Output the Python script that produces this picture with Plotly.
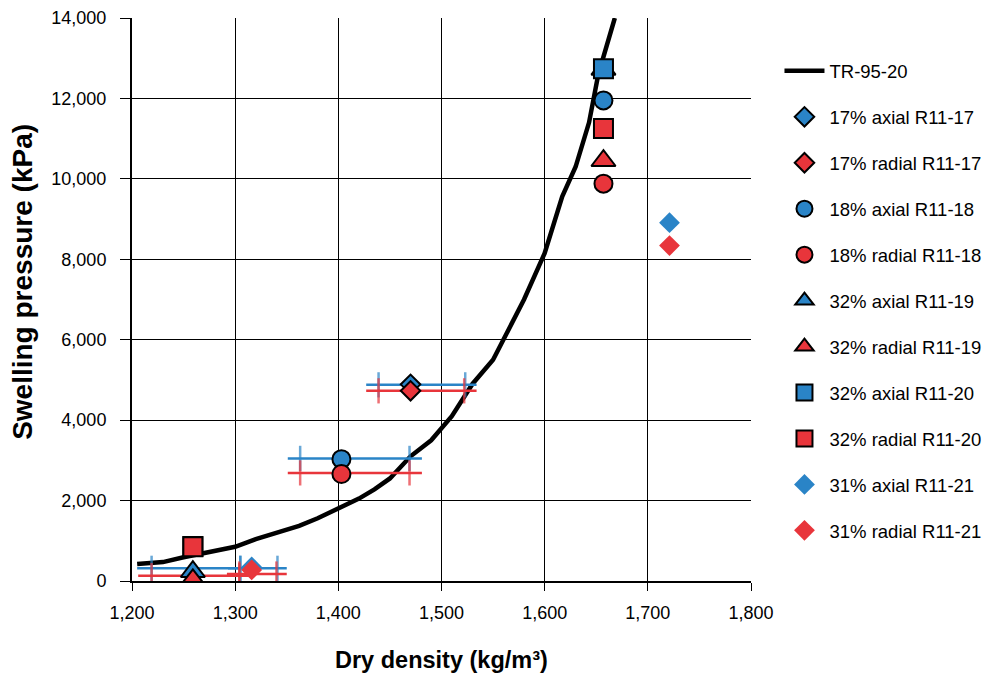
import plotly.graph_objects as go

BLUE = "#2A84C7"
RED = "#E8353B"

# Reference curve TR-95-20
curve_x = [1205, 1230, 1250, 1275, 1300, 1320, 1340, 1362, 1380, 1400, 1420, 1435, 1450,
           1470, 1490, 1510, 1530, 1550, 1580, 1600, 1617, 1630, 1643, 1652, 1662, 1668]
curve_y = [420, 470, 590, 720, 850, 1040, 1190, 1370, 1560, 1800, 2050, 2280, 2550,
           3100, 3500, 4100, 4900, 5500, 7000, 8150, 9560, 10300, 11400, 12600, 13450, 14000]

# Measurement series
s17_ax_x = [1470];        s17_ax_y = [4890]
s17_ra_x = [1470];        s17_ra_y = [4730]
s18_ax_x = [1403, 1657];  s18_ax_y = [3030, 11950]
s18_ra_x = [1403, 1657];  s18_ra_y = [2660, 9880]
s19_ax_x = [1259, 1657];  s19_ax_y = [230, 12720]
s19_ra_x = [1259, 1657];  s19_ra_y = [30, 10450]
s20_ax_x = [1259, 1657];  s20_ax_y = [860, 12740]
s20_ra_x = [1259, 1657];  s20_ra_y = [850, 11250]
s21_ax_x = [1316, 1721];  s21_ax_y = [350, 8910]
s21_ra_x = [1316, 1721];  s21_ra_y = [275, 8340]

# Density ranges (horizontal bars): y, line ends, cap positions
bar_y_blue = [4878, 3049, 316, 316]
bar_lo_blue = [1427, 1351, 1205, 1293]
bar_hi_blue = [1534, 1481, 1317, 1350]
cap_lo_blue = [1439, 1363, 1219, 1305]
cap_hi_blue = [1523, 1469, 1305, 1341]

bar_y_red = [4729, 2688, 132, 174]
bar_lo_red = [1427, 1351, 1206, 1292]
bar_hi_red = [1534, 1481, 1316, 1350]
cap_lo_red = [1439, 1363, 1219, 1304]
cap_hi_red = [1522, 1469, 1304, 1340]

x_ticks = [1200, 1300, 1400, 1500, 1600, 1700, 1800]
y_ticks = [0, 2000, 4000, 6000, 8000, 10000, 12000, 14000]

FONT = "Liberation Sans, Arial, sans-serif"

fig = go.Figure()

fig.add_trace(go.Scatter(x=curve_x, y=curve_y, mode="lines", name="TR-95-20",
                         line=dict(color="black", width=4.5), legendgroup="g0"))

def add_bars(ys, los, his, clo, chi, color):
    for y, lo, hi, a, b in zip(ys, los, his, clo, chi):
        fig.add_trace(go.Scatter(
            x=[lo, a, b, hi], y=[y, y, y, y], mode="lines+markers",
            line=dict(color=color, width=2.5),
            marker=dict(symbol="line-ns", size=[0, 18, 18, 0],
                        line=dict(color=color, width=2.5)),
            showlegend=False, hoverinfo="skip"))

add_bars(bar_y_blue, bar_lo_blue, bar_hi_blue, cap_lo_blue, cap_hi_blue, BLUE)
add_bars(bar_y_red, bar_lo_red, bar_hi_red, cap_lo_red, cap_hi_red, RED)

series = [
    ("17% axial R11-17", s17_ax_x, s17_ax_y, "diamond", 15, BLUE, 2),
    ("17% radial R11-17", s17_ra_x, s17_ra_y, "diamond", 15, RED, 2),
    ("18% axial R11-18", s18_ax_x, s18_ax_y, "circle", 18, BLUE, 2),
    ("18% radial R11-18", s18_ra_x, s18_ra_y, "circle", 18, RED, 2),
    ("32% axial R11-19", s19_ax_x, s19_ax_y, "triangle-up", 21, BLUE, 2),
    ("32% radial R11-19", s19_ra_x, s19_ra_y, "triangle-up", 21, RED, 2),
    ("32% axial R11-20", s20_ax_x, s20_ax_y, "square", 19, BLUE, 2),
    ("32% radial R11-20", s20_ra_x, s20_ra_y, "square", 19, RED, 2),
    ("31% axial R11-21", s21_ax_x, s21_ax_y, "diamond", 16, BLUE, 0),
    ("31% radial R11-21", s21_ra_x, s21_ra_y, "diamond", 16, RED, 0),
]
for i, (name, xs, ys, sym, size, color, lw) in enumerate(series):
    fig.add_trace(go.Scatter(
        x=xs, y=ys, mode="markers", name=name, legendgroup=f"g{i+1}",
        marker=dict(symbol=sym, size=size, color=color,
                    line=dict(color="black", width=lw))))

fig.update_layout(
    width=987, height=675,
    margin=dict(l=132, r=236, t=18, b=94, autoexpand=False),
    paper_bgcolor="white", plot_bgcolor="white",
    font=dict(family=FONT, color="black", size=17),
    showlegend=True,
    legend=dict(x=1.046, y=0.939, xanchor="left", yanchor="top",
                font=dict(size=18.5, family=FONT), tracegroupgap=18.9,
                bgcolor="rgba(0,0,0,0)", itemwidth=40),
    xaxis=dict(range=[1200, 1800], tickvals=x_ticks,
               ticktext=[f"{v:,}" for v in x_ticks],
               showgrid=True, gridcolor="black", gridwidth=1,
               showline=True, linecolor="black", linewidth=2,
               ticks="outside", ticklen=8, tickcolor="black",
               ticklabelstandoff=6, automargin=False,
               zeroline=False, tickfont=dict(size=18)),
    yaxis=dict(range=[0, 14000], tickvals=y_ticks,
               ticktext=[f"{v:,}" for v in y_ticks],
               showgrid=True, gridcolor="black", gridwidth=1,
               showline=True, linecolor="black", linewidth=2,
               ticks="outside", ticklen=10, tickcolor="black",
               ticklabelstandoff=10, automargin=False,
               zeroline=False, tickfont=dict(size=18)),
    annotations=[
        dict(text="<b>Swelling pressure (kPa)</b>", textangle=-90,
             xref="paper", yref="paper", x=-0.178, y=0.531,
             xanchor="center", yanchor="middle", showarrow=False,
             font=dict(size=28, family=FONT, color="black")),
        dict(text="<b>Dry density (kg/m³)</b>",
             xref="paper", yref="paper", x=0.5, y=-0.141,
             xanchor="center", yanchor="middle", showarrow=False,
             font=dict(size=23.5, family=FONT, color="black")),
    ],
)

fig.write_html("out.html")
